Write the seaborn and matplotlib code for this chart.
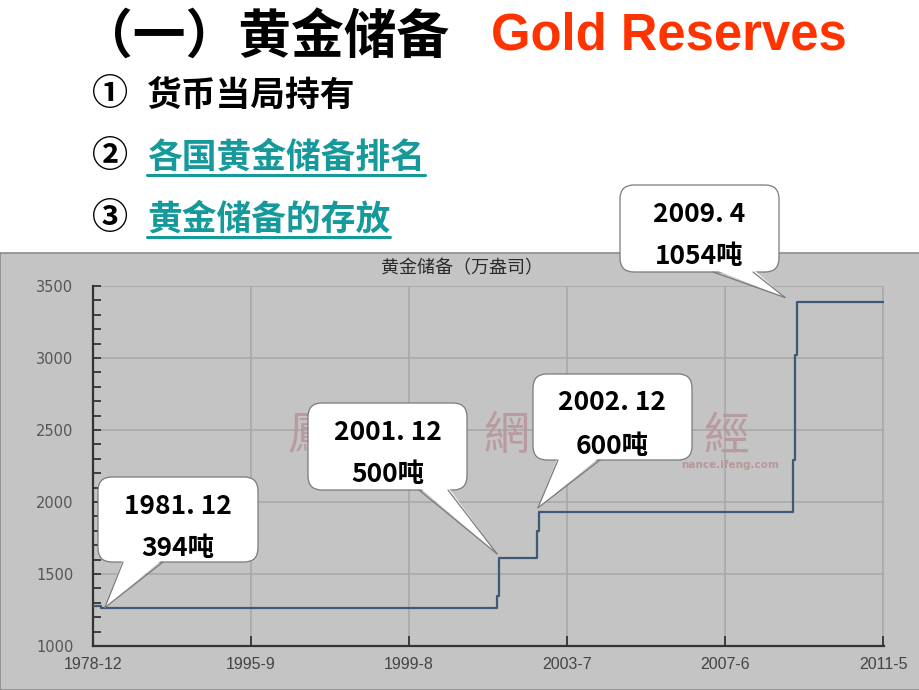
import matplotlib
matplotlib.use("Agg")
import matplotlib.pyplot as plt
import seaborn as sns
import pandas as pd
from matplotlib.patches import FancyBboxPatch, Polygon, Rectangle
from matplotlib.lines import Line2D

# ---------------- data ----------------
tick_labels = ["1978-12", "1995-9", "1999-8", "2003-7", "2007-6", "2011-5"]
step_pos = [0.0, 0.05, 2.557, 2.570, 2.810, 2.823, 4.430, 4.443, 4.456, 5.006]
reserves = [1280, 1267, 1350, 1608, 1800, 1929, 2292, 3021, 3389, 3389]
y_ticks = [1000, 1500, 2000, 2500, 3000, 3500]

callout_dates = ["1981. 12", "2001. 12", "2002. 12", "2009. 4"]
callout_tonnes = ["394吨", "500吨", "600吨", "1054吨"]
callout_tip_x = [0.075, 2.557, 2.816, 4.38]
callout_tip_y = [1267, 1640, 1960, 3420]

title_cn = "（一）黄金储备"
title_en = "Gold Reserves"
bullets = ["货币当局持有", "各国黄金储备排名", "黄金储备的存放"]
bullet_marks = ["①", "②", "③"]
chart_title = "黄金储备（万盎司）"

df = pd.DataFrame({"pos": step_pos, "val": reserves})

W, H = 920, 690
CJK = ["Noto Sans CJK SC", "DejaVu Sans"]
sns.set_style("white")
plt.rcParams["font.family"] = CJK

fig = plt.figure(figsize=(W / 100, H / 100), dpi=100)
fig.patch.set_facecolor("white")

# background panel of the chart image
fig.add_artist(Rectangle((0, 0), 1, (H - 253) / H, transform=fig.transFigure,
                         facecolor="#c4c4c4", edgecolor="#8c8c8c", lw=1.2, zorder=-1))

# ---------------- chart axes ----------------
ax = fig.add_axes([93 / W, (H - 646) / H, (884 - 93) / W, 360 / H], zorder=1)
ax.set_facecolor("#c4c4c4")
sns.lineplot(data=df, x="pos", y="val", ax=ax, drawstyle="steps-post",
             color="#3f5878", lw=1.6, sort=False, estimator=None, zorder=3)
ax.set_xlim(0, 5.006)
ax.set_ylim(1000, 3500)
ax.set_xticks(range(len(tick_labels)))
ax.set_xticklabels(tick_labels, family=["Liberation Sans", "DejaVu Sans"],
                   fontsize=11.5, color="#444444")
ax.set_yticks(y_ticks)
ax.set_yticklabels([str(v) for v in y_ticks], family=["DejaVu Sans"],
                   fontsize=10.5, color="#555555")
ax.set_yticks(range(1000, 3501, 100), minor=True)
ax.tick_params(axis="y", which="both", direction="in", length=6, width=1.3,
               color="#333333", pad=14, left=True)
ax.tick_params(axis="x", which="major", direction="in", length=7, width=1.3,
               color="#333333", pad=8, bottom=True)
ax.grid(True, which="major", color="#a6a6a6", lw=1.1)
ax.set_axisbelow(True)
for s in ["top", "right"]:
    ax.spines[s].set_visible(False)
for s in ["left", "bottom"]:
    ax.spines[s].set_color("#333333")
    ax.spines[s].set_linewidth(1.6)
ax.set_xlabel("")
ax.set_ylabel("")

# watermark (only the parts not hidden by the callouts)
wm_chars = [("鳳", 310), ("網", 506), ("經", 726)]
for ch, px in wm_chars:
    ax.text(px / W, 1 - 436 / H, ch, transform=fig.transFigure, ha="center", va="center",
            fontsize=33, color="#b8979b", alpha=0.9, zorder=1,
            family=["Noto Sans CJK TC", "DejaVu Sans"])
ax.text(730 / W, 1 - 465 / H, "nance.ifeng.com", transform=fig.transFigure,
        ha="center", va="center", fontsize=7.5, color="#b8979b", weight="bold",
        zorder=1, family=["DejaVu Sans"])

# ---------------- overlay in pixel coordinates ----------------
ov = fig.add_axes([0, 0, 1, 1], zorder=2)
ov.set_xlim(0, W)
ov.set_ylim(H, 0)
ov.axis("off")

ov.text(80, 37, title_cn, fontsize=38, weight="bold", color="black",
        ha="left", va="center", family=CJK)
ov.text(491, 36, title_en, fontsize=36.5, weight="bold", color="#ff3300",
        ha="left", va="center", family=["Liberation Sans", "DejaVu Sans"])

ov.text(462, 268, chart_title, fontsize=13, color="#2a2a2a",
        ha="center", va="center", family=CJK)

bullet_y = [95, 157, 219]
bullet_colors = ["black", "#15999a", "#15999a"]
fig.canvas.draw()
renderer = fig.canvas.get_renderer()
for mark, txt, y, c in zip(bullet_marks, bullets, bullet_y, bullet_colors):
    ov.text(92, y, mark, fontsize=26, weight="heavy", color="black",
            ha="left", va="center", family=CJK)
    t = ov.text(147, y, txt, fontsize=25, weight="bold", color=c,
                ha="left", va="center", family=CJK)
    if c != "black":
        bb = t.get_window_extent(renderer)
        ov.add_line(Line2D([bb.x0, bb.x1], [y + 18, y + 18], color=c, lw=2.2))

# callouts: (left, top, right, bottom), pointer base (x0, x1)
boxes = [(98, 477, 258, 562), (308, 403, 467, 490), (533, 374, 692, 460), (620, 185, 779, 272)]
bases = [(123, 163), (419, 448), (558, 600), (713, 753)]
edge = "#7a7a7a"
for (l, t_, r, b), (bx0, bx1), d, tn, tx, ty in zip(boxes, bases, callout_dates,
                                                     callout_tonnes, callout_tip_x, callout_tip_y):
    disp = ax.transData.transform((tx, ty))
    tipx, tipy = disp[0], H - disp[1]
    box = FancyBboxPatch((l + 14, t_ + 14), (r - l) - 28, (b - t_) - 28,
                         boxstyle="round,pad=14", facecolor="white", edgecolor=edge,
                         lw=0.9, zorder=3)
    ov.add_patch(box)
    by = b - 3 if tipy > b else t_ + 3
    ov.add_patch(Polygon([(bx0, by), (bx1, by), (tipx, tipy)], closed=True,
                         facecolor="white", edgecolor="none", zorder=4))
    bedge = b if tipy > b else t_
    ov.add_line(Line2D([bx0, tipx], [bedge, tipy], color=edge, lw=0.9, zorder=5))
    ov.add_line(Line2D([bx1, tipx], [bedge, tipy], color=edge, lw=0.9, zorder=5))
    cx = (l + r) / 2
    ov.text(cx, t_ + 29, d, fontsize=19, weight="bold", color="black",
            ha="center", va="center", zorder=6, family=CJK)
    ov.text(cx, t_ + 72, tn, fontsize=19, weight="bold", color="black",
            ha="center", va="center", zorder=6, family=CJK)

fig.savefig("out.png", dpi=100)
